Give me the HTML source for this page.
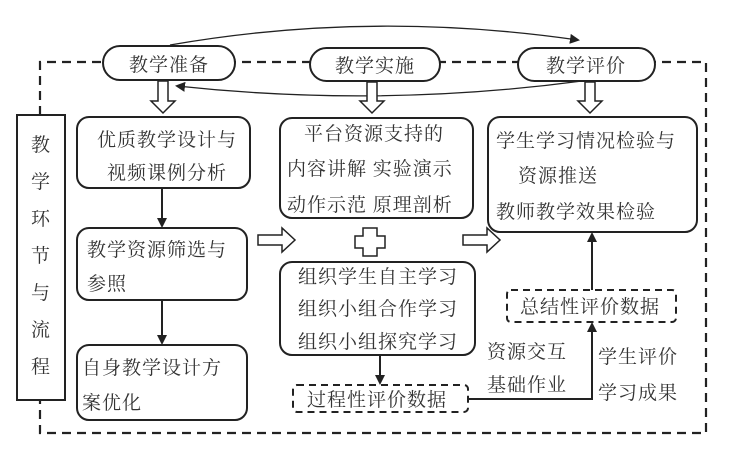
<!DOCTYPE html>
<html><head><meta charset="utf-8"><style>
html,body{margin:0;padding:0;background:#fff;}
svg{display:block;}
text{font-family:"Liberation Serif","Noto Serif CJK SC",serif;font-size:19px;letter-spacing:1px;fill:#333;}
</style></head><body>
<svg width="735" height="461" viewBox="0 0 735 461" xmlns="http://www.w3.org/2000/svg">
<defs>
<marker id="ah" markerWidth="10" markerHeight="10" refX="8" refY="5" orient="auto" markerUnits="userSpaceOnUse"><path d="M0,0 L10,5 L0,10 z" fill="#222"/></marker>
</defs>
<g fill="none" stroke="#222" stroke-width="2.2" stroke-dasharray="9,6">
<path d="M40,115 V62 H706 V433 H40 V400"/>
</g>
<path d="M170,45 Q370,10 578,40" fill="none" stroke="#222" stroke-width="1.3" marker-end="url(#ah)"/>
<path d="M582,81 Q380,108 177,86" fill="none" stroke="#222" stroke-width="1.3" marker-end="url(#ah)"/>
<g fill="#fff" stroke="#222" stroke-width="2">
<rect x="103" y="46" width="132" height="34" rx="17"/>
<rect x="310" y="48" width="130" height="33" rx="16.5"/>
<rect x="518" y="48" width="137" height="33" rx="16.5"/>
</g>
<text x="169" y="71" text-anchor="middle">教学准备</text>
<text x="375" y="72" text-anchor="middle">教学实施</text>
<text x="586" y="72" text-anchor="middle">教学评价</text>
<g fill="#fff" stroke="#222" stroke-width="1.5">
<path d="M158,81 h10 v20 h7 l-12,12 l-12,-12 h7 z"/>
<path d="M367,82 h10 v19 h7 l-12,12 l-12,-12 h7 z"/>
<path d="M585,82 h10 v19 h7 l-12,12 l-12,-12 h7 z"/>
<path d="M258,235 h24 v-7 l13,12 l-13,12 v-7 h-24 z"/>
<path d="M463,235 h24 v-7 l13,12 l-13,12 v-7 h-24 z"/>
<path d="M363,228 h14 v8 h8 v12 h-8 v8 h-14 v-8 h-8 v-12 h8 z"/>
</g>
<rect x="17" y="115" width="48" height="285" fill="#fff" stroke="#222" stroke-width="2"/>
<g text-anchor="middle">
<text x="41" y="151">教</text><text x="41" y="188">学</text><text x="41" y="225">环</text>
<text x="41" y="262">节</text><text x="41" y="299">与</text><text x="41" y="336">流</text><text x="41" y="373">程</text>
</g>
<g fill="#fff" stroke="#222" stroke-width="2">
<rect x="77" y="117" width="173" height="71" rx="12"/>
<rect x="77" y="228" width="170" height="72" rx="12"/>
<rect x="77" y="345" width="170" height="75" rx="12"/>
<rect x="280" y="118" width="193" height="100" rx="12"/>
<rect x="280" y="262" width="195" height="93" rx="12"/>
<rect x="488" y="117" width="209" height="115" rx="12"/>
</g>
<g fill="#fff" stroke="#222" stroke-width="2" stroke-dasharray="7,5">
<rect x="293" y="385" width="175" height="27" rx="4"/>
<rect x="507" y="290" width="169" height="32" rx="4"/>
</g>
<text x="97" y="146">优质教学设计与</text>
<text x="107" y="179">视频课例分析</text>
<text x="87" y="256">教学资源筛选与</text>
<text x="87" y="290">参照</text>
<text x="82" y="374">自身教学设计方</text>
<text x="82" y="409">案优化</text>
<text x="304" y="140">平台资源支持的</text>
<text x="287" y="175">内容讲解&#160;实验演示</text>
<text x="287" y="211">动作示范&#160;原理剖析</text>
<text x="298" y="283">组织学生自主学习</text>
<text x="298" y="315">组织小组合作学习</text>
<text x="298" y="348">组织小组探究学习</text>
<text x="307" y="406">过程性评价数据</text>
<text x="496" y="147">学生学习情况检验与</text>
<text x="518" y="182">资源推送</text>
<text x="496" y="218">教师教学效果检验</text>
<text x="520" y="313">总结性评价数据</text>
<text x="487" y="358">资源交互</text>
<text x="487" y="391">基础作业</text>
<text x="598" y="363">学生评价</text>
<text x="598" y="399">学习成果</text>
<g stroke="#222" stroke-width="2" fill="none">
<path d="M162,188 V226" marker-end="url(#ah)"/>
<path d="M162,300 V343" marker-end="url(#ah)"/>
<path d="M380,355 V383" marker-end="url(#ah)"/>
<path d="M468,399 H592 V324" marker-end="url(#ah)"/>
<path d="M592,290 V234" marker-end="url(#ah)"/>
</g>
</svg>
</body></html>
